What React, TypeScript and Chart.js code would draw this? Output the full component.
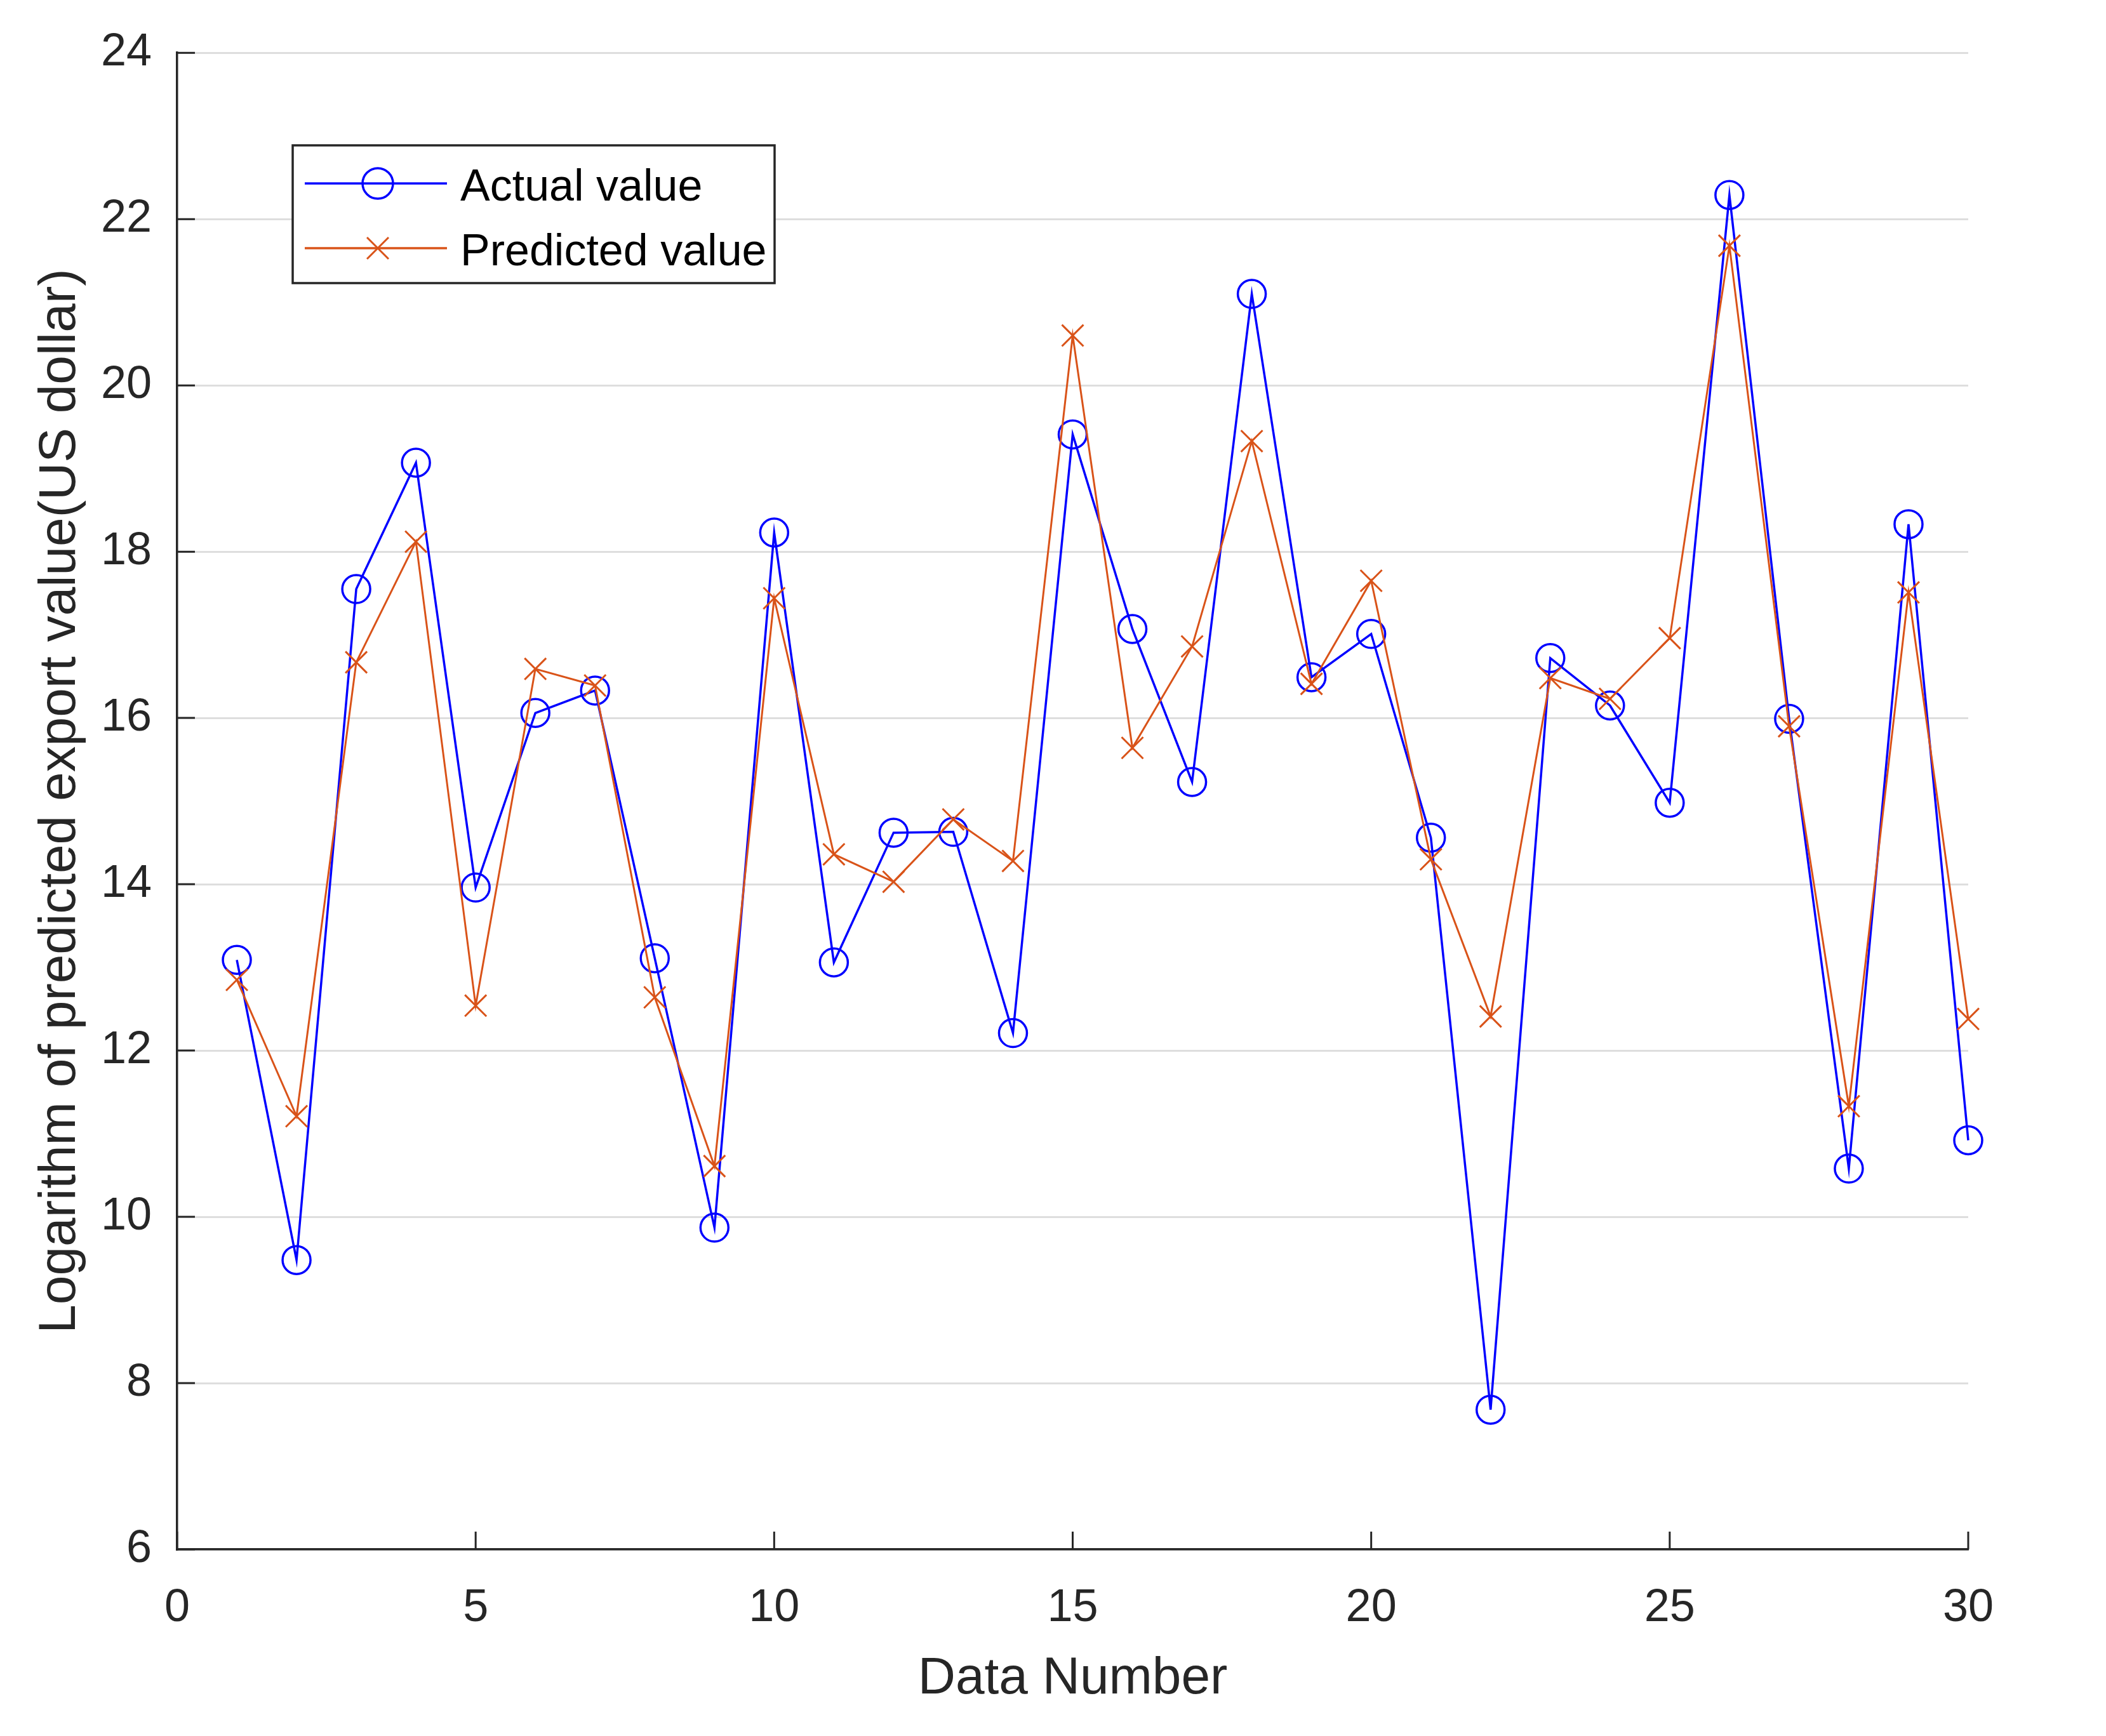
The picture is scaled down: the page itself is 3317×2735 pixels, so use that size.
import React, { useEffect, useRef } from 'react';
import { Chart, registerables } from 'chart.js';

Chart.register(...registerables);

const dataNumbers = [1, 2, 3, 4, 5, 6, 7, 8, 9, 10, 11, 12, 13, 14, 15, 16, 17, 18, 19, 20, 21, 22, 23, 24, 25, 26, 27, 28, 29, 30];
const actualValues = [13.09, 9.48, 17.55, 19.07, 13.96, 16.06, 16.33, 13.11, 9.87, 18.23, 13.06, 14.62, 14.63, 12.21, 19.41, 17.07, 15.23, 21.1, 16.49, 17.01, 14.56, 7.68, 16.72, 16.15, 14.98, 22.29, 15.99, 10.58, 18.33, 10.92];
const predictedValues = [12.85, 11.21, 16.67, 18.12, 12.54, 16.59, 16.39, 12.64, 10.61, 17.44, 14.36, 14.03, 14.78, 14.28, 20.6, 15.64, 16.86, 19.33, 16.41, 17.65, 14.3, 12.41, 16.48, 16.23, 16.96, 21.68, 15.9, 11.33, 17.51, 12.38];
const xTickValues = [0, 5, 10, 15, 20, 25, 30];
const yTickValues = [6, 8, 10, 12, 14, 16, 18, 20, 22, 24];
const seriesLabels = ['Actual value', 'Predicted value'];
const xTitle = 'Data Number';
const yTitle = 'Logarithm of predicted export value(US dollar)';

const FONT = '"Liberation Sans", Arial, Helvetica, sans-serif';
const AXIS = '#262626';
const BLUE = '#0000FF';
const ORANGE = '#D95319';

const innerTicksPlugin = {
  id: 'innerTicks',
  beforeDatasetsDraw(chart: any) {
    const { ctx, chartArea } = chart;
    const xs = chart.scales.x;
    const ys = chart.scales.y;
    const len = 28;
    ctx.save();
    ctx.strokeStyle = AXIS;
    ctx.lineWidth = 3;
    ctx.beginPath();
    ys.ticks.forEach((t: any) => {
      const py = ys.getPixelForValue(t.value);
      ctx.moveTo(chartArea.left, py);
      ctx.lineTo(chartArea.left + len, py);
    });
    xs.ticks.forEach((t: any) => {
      const px = xs.getPixelForValue(t.value);
      ctx.moveTo(px, chartArea.bottom);
      ctx.lineTo(px, chartArea.bottom - len);
    });
    ctx.stroke();
    ctx.restore();
  },
};

const boxLegendPlugin = {
  id: 'boxLegend',
  afterDraw(chart: any) {
    const { ctx } = chart;
    const box = { left: 461, top: 229, width: 759, height: 217 };
    const rowY = [289, 391];
    const lineX0 = 480;
    const lineX1 = 704;
    const markerX = 595;
    const textX = 725;
    ctx.save();
    ctx.fillStyle = '#ffffff';
    ctx.fillRect(box.left, box.top, box.width, box.height);
    ctx.strokeStyle = AXIS;
    ctx.lineWidth = 3.5;
    ctx.strokeRect(box.left, box.top, box.width, box.height);
    chart.data.datasets.forEach((ds: any, i: number) => {
      const y = rowY[i];
      ctx.strokeStyle = ds.borderColor;
      ctx.lineWidth = 3.5;
      ctx.beginPath();
      ctx.moveTo(lineX0, y);
      ctx.lineTo(lineX1, y);
      ctx.stroke();
      ctx.lineWidth = ds.pointBorderWidth;
      ctx.beginPath();
      if (ds.pointStyle === 'circle') {
        ctx.arc(markerX, y, 24, 0, Math.PI * 2);
      } else {
        const h = ds.pointRadius * Math.SQRT1_2;
        ctx.moveTo(markerX - h, y - h);
        ctx.lineTo(markerX + h, y + h);
        ctx.moveTo(markerX + h, y - h);
        ctx.lineTo(markerX - h, y + h);
      }
      ctx.stroke();
      ctx.fillStyle = '#000000';
      ctx.font = `70px ${FONT}`;
      ctx.textAlign = 'left';
      ctx.textBaseline = 'middle';
      ctx.fillText(ds.label, textX, y + 8);
    });
    ctx.restore();
  },
};

export default function App() {
  const canvasRef = useRef<HTMLCanvasElement | null>(null);

  useEffect(() => {
    if (!canvasRef.current) return;
    document.body.style.margin = '0';
    const chart = new Chart(canvasRef.current, {
      type: 'line',
      data: {
        datasets: [
          {
            label: seriesLabels[0],
            data: dataNumbers.map((x, i) => ({ x, y: actualValues[i] })),
            borderColor: BLUE,
            borderWidth: 3.5,
            pointStyle: 'circle',
            pointRadius: 22,
            pointBorderWidth: 3.5,
            pointBorderColor: BLUE,
            pointBackgroundColor: 'rgba(0,0,0,0)',
            tension: 0,
            fill: false,
            clip: false as any,
            order: 1,
          },
          {
            label: seriesLabels[1],
            data: dataNumbers.map((x, i) => ({ x, y: predictedValues[i] })),
            borderColor: ORANGE,
            borderWidth: 3,
            pointStyle: 'crossRot',
            pointRadius: 24,
            pointBorderWidth: 3,
            pointBorderColor: ORANGE,
            pointBackgroundColor: 'rgba(0,0,0,0)',
            tension: 0,
            fill: false,
            clip: false as any,
            order: 0,
          },
        ],
      },
      options: {
        responsive: false,
        devicePixelRatio: 1,
        animation: false,
        events: [],
        layout: { padding: { left: 0, top: 81, right: 217, bottom: 0 } },
        plugins: {
          legend: { display: false },
          tooltip: { enabled: false },
        },
        scales: {
          x: {
            type: 'linear',
            min: 0,
            max: 30,
            afterBuildTicks: (s: any) => {
              s.ticks = xTickValues.map((v) => ({ value: v }));
            },
            afterFit: (s: any) => {
              s.height = 294;
            },
            grid: { display: false, drawTicks: false },
            border: { display: true, color: AXIS, width: 3.5 },
            ticks: {
              font: { family: FONT, size: 72 },
              color: AXIS,
              padding: 50,
              maxRotation: 0,
              autoSkip: false,
            },
            title: {
              display: true,
              text: xTitle,
              font: { family: FONT, size: 82 },
              color: AXIS,
              padding: { top: 0, bottom: 40 },
            },
          },
          y: {
            type: 'linear',
            min: 6,
            max: 24,
            afterBuildTicks: (s: any) => {
              s.ticks = yTickValues.map((v) => ({ value: v }));
            },
            afterFit: (s: any) => {
              s.width = 279;
            },
            grid: { color: '#dedede', lineWidth: 3, drawTicks: false },
            border: { display: true, color: AXIS, width: 3.5 },
            ticks: {
              font: { family: FONT, size: 72 },
              color: AXIS,
              padding: 40,
              autoSkip: false,
            },
            title: {
              display: true,
              text: yTitle,
              font: { family: FONT, size: 82 },
              color: AXIS,
              padding: { top: 46, bottom: 0 },
            },
          },
        },
      },
      plugins: [innerTicksPlugin, boxLegendPlugin],
    });
    return () => chart.destroy();
  }, []);

  return (
    <div style={{ position: 'fixed', left: 0, top: 0, width: 3317, height: 2735, background: '#ffffff' }}>
      <canvas ref={canvasRef} width={3317} height={2735} style={{ display: 'block', width: 3317, height: 2735 }} />
    </div>
  );
}
